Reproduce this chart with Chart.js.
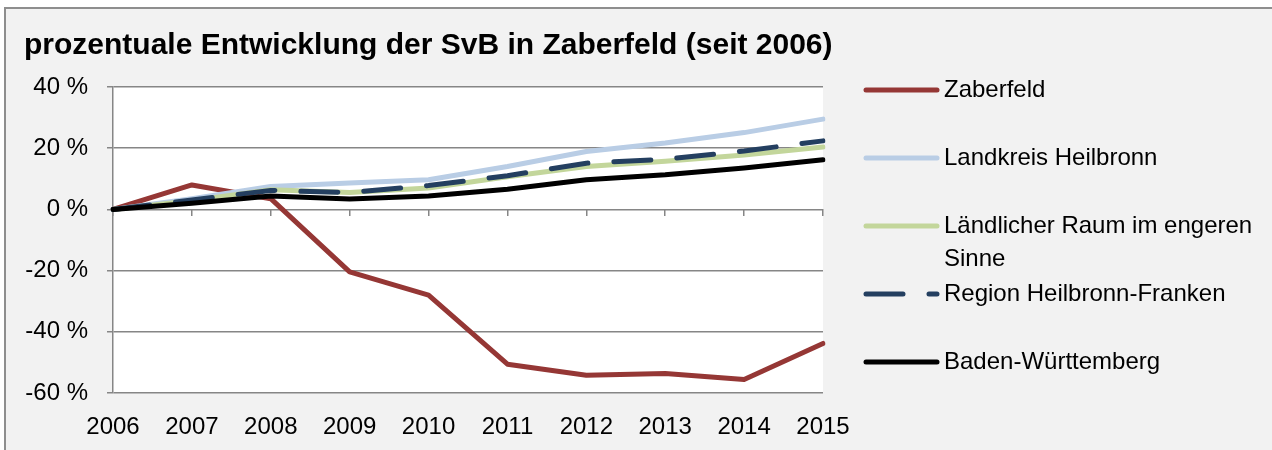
<!DOCTYPE html>
<html>
<head>
<meta charset="utf-8">
<title>prozentuale Entwicklung der SvB in Zaberfeld</title>
<script src="https://cdn.jsdelivr.net/npm/chart.js@4.4.1/dist/chart.umd.min.js"></script>
<style>
    html, body { margin: 0; padding: 0; width: 1272px; height: 450px; overflow: hidden; background: #fff; }
    #frame { position: absolute; left: 4px; top: 7px; width: 1300px; height: 500px; background: #f2f2f2;
             border-left: 2px solid #8e8e8e; border-top: 2px solid #8e8e8e; box-sizing: border-box; }
    #wrap { position: absolute; left: 0; top: 0; width: 1272px; height: 450px; }
</style>
</head>
<body>
<div id="frame"></div>
<div id="wrap"><canvas id="chart" width="1272" height="450"></canvas></div>
<script>
const years = ['2006', '2007', '2008', '2009', '2010', '2011', '2012', '2013', '2014', '2015'];

const zaberfeld = [0, 8.0, 3.5, -20.4, -28.0, -50.6, -54.2, -53.6, -55.6, -43.8];
const landkreisHeilbronn = [0, 3.5, 7.5, 8.6, 9.7, 14.0, 18.9, 21.7, 25.1, 29.5];
const laendlicherRaum = [0, 2.8, 6.4, 5.5, 7.0, 10.7, 14.0, 15.7, 17.8, 20.4];
const regionHeilbronnFranken = [0, 3.1, 6.2, 5.5, 7.8, 11.0, 15.1, 16.4, 19.1, 22.4];
const badenWuerttemberg = [0, 2.0, 4.4, 3.4, 4.4, 6.6, 9.7, 11.3, 13.5, 16.2];

const yMin = -60;
const yMax = 40;
const yStep = 20;

const FONT = '"Liberation Sans", Arial, sans-serif';
const GRID = '#868686';

// white plot area like the Excel original
const plotBg = {
    id: 'plotBg',
    beforeDraw(chart) {
        const { ctx, chartArea: a } = chart;
        ctx.save();
        ctx.fillStyle = '#fff';
        ctx.fillRect(a.left, a.top, a.right - a.left, a.bottom - a.top);
        ctx.restore();
    }
};

// legend on the right, one slot per series, long labels wrap
const sideLegend = {
    id: 'sideLegend',
    afterDraw(chart) {
        const { ctx, chartArea } = chart;
        const x0 = chartArea.right + 43;
        const lineLen = 71;
        const textX = x0 + lineLen + 7;
        const maxW = chart.width - textX - 6;
        ctx.save();
        ctx.font = '24px ' + FONT;
        ctx.textBaseline = 'middle';
        chart.data.datasets.forEach((ds, i) => {
            const y = chartArea.top + 3 + i * 68;
            ctx.strokeStyle = ds.borderColor;
            ctx.lineWidth = ds.borderWidth;
            ctx.lineCap = 'round';
            ctx.setLineDash(ds.borderDash || []);
            ctx.beginPath();
            ctx.moveTo(x0, y);
            ctx.lineTo(x0 + lineLen, y);
            ctx.stroke();
            ctx.setLineDash([]);

            // simple word wrap
            const lines = [];
            let cur = '';
            ds.label.split(' ').forEach(w => {
                const t = cur ? cur + ' ' + w : w;
                if (cur && ctx.measureText(t).width > maxW) {
                    lines.push(cur);
                    cur = w;
                } else {
                    cur = t;
                }
            });
            lines.push(cur);
            ctx.fillStyle = '#000';
            lines.forEach((ln, k) => ctx.fillText(ln, textX, y + k * 33));
        });
        ctx.restore();
    }
};

const line = (label, data, color, order, extra) => Object.assign({
    label: label,
    data: data,
    borderColor: color,
    backgroundColor: color,
    borderWidth: 5,
    pointRadius: 0,
    tension: 0,
    fill: false,
    borderCapStyle: 'round',
    borderJoinStyle: 'round',
    order: order
}, extra || {});

new Chart(document.getElementById('chart'), {
    type: 'line',
    data: {
        labels: years,
        datasets: [
            line('Zaberfeld', zaberfeld, '#953735', 5),
            line('Landkreis Heilbronn', landkreisHeilbronn, '#b9cde5', 4),
            line('Ländlicher Raum im engeren Sinne', laendlicherRaum, '#c3d69b', 3),
            line('Region Heilbronn-Franken', regionHeilbronnFranken, '#243f60', 2, { borderDash: [37, 26] }),
            line('Baden-Württemberg', badenWuerttemberg, '#000000', 1)
        ]
    },
    options: {
        responsive: false,
        animation: false,
        layout: { padding: { left: 24, right: 0, top: 0, bottom: 0 } },
        plugins: {
            legend: { display: false },
            tooltip: { enabled: false },
            title: {
                display: true,
                text: 'prozentuale Entwicklung der SvB in Zaberfeld (seit 2006)',
                align: 'start',
                color: '#000',
                font: { family: FONT, size: 30, weight: 'bold', lineHeight: 1.2 },
                padding: { top: 28, bottom: 23 }
            }
        },
        scales: {
            x: {
                type: 'category',
                offset: false,
                grid: { display: false, drawTicks: false },
                border: { display: false },
                ticks: { color: '#000', font: { family: FONT, size: 24 }, padding: 20, maxRotation: 0, autoSkip: false },
                afterFit(s) { s.height = 57; }
            },
            // tick marks along the 0 % line
            x0: {
                type: 'category',
                position: { y: 0 },
                offset: false,
                grid: { drawOnChartArea: false, drawTicks: true, tickLength: 7, color: GRID, lineWidth: 1.5 },
                border: { display: false },
                ticks: { display: false }
            },
            y: {
                min: yMin,
                max: yMax,
                ticks: {
                    stepSize: yStep,
                    color: '#000',
                    font: { family: FONT, size: 24 },
                    padding: 19,
                    callback: v => v + ' %'
                },
                grid: { color: GRID, lineWidth: 1.5, tickLength: 6, drawTicks: true },
                border: { display: true, color: GRID, width: 1.5 },
                afterFit(s) { s.width = 89; }
            },
            // empty axis that keeps room for the legend
            legendSpace: {
                position: 'right',
                grid: { display: false },
                border: { display: false },
                ticks: { display: false },
                afterFit(s) { s.width = 449; }
            }
        }
    },
    plugins: [plotBg, sideLegend]
});
</script>
</body>
</html>
